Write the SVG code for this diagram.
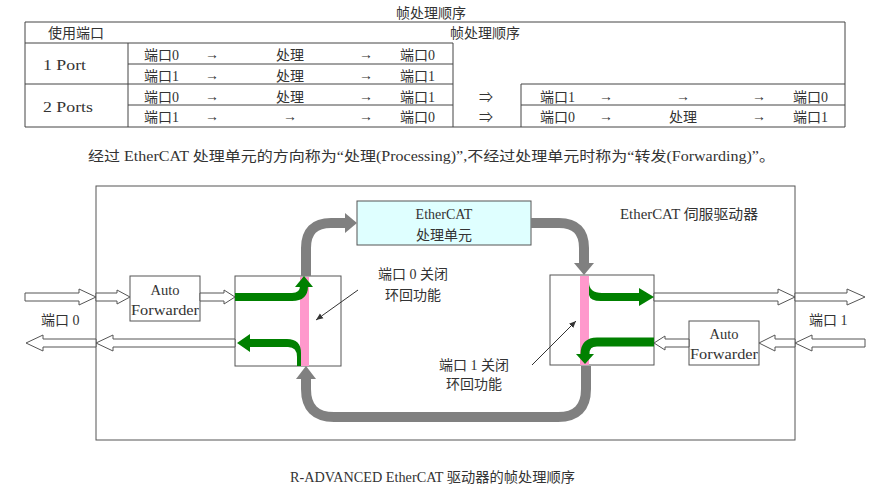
<svg xmlns="http://www.w3.org/2000/svg" width="896" height="497" viewBox="0 0 896 497">
<defs>
<style>
.t{font-family:"Liberation Serif","Noto Sans CJK SC",serif;font-size:14px;fill:#333}
.c{text-anchor:middle}
.tl{stroke:#444;stroke-width:1;fill:none}
.box{fill:#fff;stroke:#555;stroke-width:1}
.ha{fill:#fff;stroke:#555;stroke-width:1}
.grey{fill:none;stroke:#808080;stroke-width:10}
.greyh{fill:#808080}
.grn{fill:#008000}
.grns{fill:none;stroke:#008000;stroke-width:8}
.pink{fill:#FF99CC}
.thin{stroke:#333;stroke-width:1;fill:none}
</style>
<marker id="ah" markerWidth="8" markerHeight="8" refX="7" refY="4" orient="auto" markerUnits="userSpaceOnUse">
<path d="M0,1 L7,4 L0,7 Z" fill="#333"/>
</marker>
</defs>
<rect width="896" height="497" fill="#fff"/>

<g id="table">
<text class="t c" x="431" y="18">帧处理顺序</text>
<path class="tl" d="M25,22 H845 V127 H25 Z M25,43 H453 M128,43 V127 M128,64 H453 M25,84 H453 M128,105 H453 M453,43 V127 M521,84 H845 M521,84 V127 M521,105 H845"/>
<text class="t" x="48" y="38">使用端口</text>
<text class="t" x="450" y="38">帧处理顺序</text>
<text class="t" x="43" y="70" textLength="43" lengthAdjust="spacingAndGlyphs">1 Port</text>
<text class="t" x="43" y="112" textLength="50" lengthAdjust="spacingAndGlyphs">2 Ports</text>
<g class="t">
<text x="144" y="60">端口0</text><text class="c" x="212" y="59">→</text><text class="c" x="290" y="60">处理</text><text class="c" x="366" y="59">→</text><text x="400" y="60">端口0</text>
<text x="144" y="81">端口1</text><text class="c" x="212" y="80">→</text><text class="c" x="290" y="81">处理</text><text class="c" x="366" y="80">→</text><text x="400" y="81">端口1</text>
<text x="144" y="102">端口0</text><text class="c" x="212" y="101">→</text><text class="c" x="290" y="102">处理</text><text class="c" x="366" y="101">→</text><text x="400" y="102">端口1</text>
<text x="144" y="122">端口1</text><text class="c" x="212" y="121">→</text><text class="c" x="290" y="121">→</text><text class="c" x="366" y="121">→</text><text x="400" y="122">端口0</text>
<text class="c" x="486" y="102">⇒</text><text x="540" y="102">端口1</text><text class="c" x="606" y="101">→</text><text class="c" x="683" y="101">→</text><text class="c" x="759" y="101">→</text><text x="793" y="102">端口0</text>
<text class="c" x="486" y="122">⇒</text><text x="540" y="122">端口0</text><text class="c" x="606" y="121">→</text><text class="c" x="683" y="122">处理</text><text class="c" x="759" y="121">→</text><text x="793" y="122">端口1</text>
</g>
</g>

<text id="note" class="t" x="88" y="161" textLength="687" lengthAdjust="spacingAndGlyphs">经过 EtherCAT 处理单元的方向称为“处理(Processing)”,不经过处理单元时称为“转发(Forwarding)”。</text>

<g id="drive">
<rect class="box" x="96" y="186" width="699" height="254" fill="none"/>
<text class="t" x="620" y="219" textLength="138" lengthAdjust="spacingAndGlyphs">EtherCAT 伺服驱动器</text>
</g>

<g id="esc">
<rect x="357" y="201" width="174" height="44" fill="#DFFFFF" stroke="#555"/>
<text class="t c" x="444" y="219">EtherCAT</text>
<text class="t c" x="444" y="240">处理单元</text>
</g>

<g id="af0">
<rect class="box" x="130" y="276" width="70" height="45"/>
<text class="t c" x="165" y="295" textLength="29" lengthAdjust="spacingAndGlyphs">Auto</text>
<text class="t c" x="165" y="315" textLength="68" lengthAdjust="spacingAndGlyphs">Forwarder</text>
</g>

<g id="af1">
<rect class="box" x="689" y="321" width="70" height="44"/>
<text class="t c" x="724" y="339" textLength="29" lengthAdjust="spacingAndGlyphs">Auto</text>
<text class="t c" x="724" y="359" textLength="68" lengthAdjust="spacingAndGlyphs">Forwarder</text>
</g>

<g id="sw0">
<rect class="box" x="235" y="276" width="106" height="90"/>
<rect class="pink" x="300" y="277" width="9" height="89"/>
</g>

<g id="sw1">
<rect class="box" x="550" y="275" width="104" height="90"/>
<rect class="pink" x="580" y="276" width="9" height="89"/>
</g>

<g id="labels">
<text class="t" x="41" y="325">端口 0</text>
<text class="t" x="809" y="325">端口 1</text>
<text class="t" x="378" y="279">端口 0 关闭</text>
<text class="t" x="385" y="300">环回功能</text>
<text class="t" x="439" y="370">端口 1 关闭</text>
<text class="t" x="446" y="389">环回功能</text>
</g>

<g id="connectors">
<polygon class="ha" points="25,293 79,293 79,289 96,297 79,305 79,301 25,301"/>
<polygon class="ha" points="96,293 117,293 117,290 130,297 117,304 117,301 96,301"/>
<polygon class="ha" points="200,293 224,293 224,290 235,297 224,304 224,301 200,301"/>
<polygon class="ha" points="654,293 778,293 778,289 795,297 778,305 778,301 654,301"/>
<polygon class="ha" points="795,293 847,293 847,289 865,297 847,305 847,301 795,301"/>
<polygon class="ha" points="235,339 113,339 113,335 96,343 113,351 113,347 235,347"/>
<polygon class="ha" points="96,339 43,339 43,335 26,343 43,351 43,347 96,347"/>
<polygon class="ha" points="865,339 812,339 812,335 795,343 812,351 812,347 865,347"/>
<polygon class="ha" points="795,339 775,339 775,335 759,343 775,351 775,347 795,347"/>
<polygon class="ha" points="689,339 665,339 665,336 654,343 665,350 665,347 689,347"/>

<path class="grey" d="M306,276 V248 Q306,223 331,223 H346"/>
<polygon class="greyh" points="345,213 357,223 345,233"/>
<path class="grey" d="M531,223 H559 Q584,223 584,248 V264"/>
<polygon class="greyh" points="574,263 594,263 584,275"/>
<path class="grey" d="M586,366 V389 Q586,417 558,417 H334 Q306,417 306,389 V378"/>
<polygon class="greyh" points="296,379 316,379 306,366"/>

<path class="grns" d="M235,297 H292 Q304,297 304,286"/>
<polygon class="grn" points="295,287 304,276 313,287"/>
<path class="grn" d="M301,366 V353 Q301,339 287,339 H250 V334 L237,343 L250,352 V347 H288 Q297,347 297,357 V366 Z"/>
<path class="grn" d="M589,282 Q589,293 602,293 H639 V288 L654,297 L639,306 V301 H601 Q590,301 589,295 Z"/>
<path class="grns" d="M654,342 H597 Q585,342 585,354 V355" style="stroke-width:9"/>
<polygon class="grn" points="576,354 594,354 585,364"/>

<line class="thin" x1="358" y1="290" x2="316" y2="320" marker-end="url(#ah)"/>
<line class="thin" x1="532" y1="365" x2="576" y2="321" marker-end="url(#ah)"/>
</g>

<text id="caption" class="t" x="290" y="482" textLength="285" lengthAdjust="spacingAndGlyphs">R-ADVANCED EtherCAT 驱动器的帧处理顺序</text>
</svg>
